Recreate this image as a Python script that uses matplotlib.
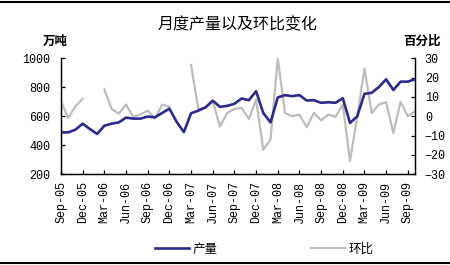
import matplotlib
matplotlib.use('Agg')
import matplotlib.pyplot as plt
import matplotlib.lines as mlines
import numpy as np

plt.rcParams['font.family'] = ['Noto Sans CJK SC', 'DejaVu Sans']

# month index 0 = Sep-05 ... 49 = Oct-09
tick_labels = ['Sep-05', 'Dec-05', 'Mar-06', 'Jun-06', 'Sep-06', 'Dec-06',
               'Mar-07', 'Jun-07', 'Sep-07', 'Dec-07', 'Mar-08', 'Jun-08',
               'Sep-08', 'Dec-08', 'Mar-09', 'Jun-09', 'Sep-09']

# 产量 (万吨)
output = [489, 489, 508, 549, 512, 478, 535, 549, 558, 591,
          584, 584, 598, 593, 623, 653, 562, 491, 621, 639,
          662, 708, 665, 672, 686, 723, 711, 773, 622, 558,
          730, 746, 739, 746, 709, 711, 693, 697, 693, 725,
          554, 600, 755, 762, 802, 855, 781, 839, 839, 855]

# 环比 (%), gaps where no figure was published
mom = [7.8, -0.9, 5.2, 9.0, np.nan, np.nan, 13.9, 3.8, 1.4, 6.1,
       -0.3, 0.9, 3.0, -1.2, 6.1, 4.9, np.nan, np.nan, 26.5, 3.8,
       4.3, 7.8, -5.3, 1.7, 3.8, 4.3, -1.4, 8.7, -17.4, -12.0,
       30.0, 1.7, 0.0, 0.9, -5.7, 1.7, -2.1, 0.9, -0.3, 6.1,
       -23.1, 0.0, 24.7, 1.7, 6.1, 7.3, -8.7, 7.5, 0.0, 2.6]

months = np.arange(len(output))
blue = '#2B2B8E'
grey = '#BDBDBD'
tick_font = dict(family='Liberation Mono', size=8.5)

fig = plt.figure(figsize=(4.5, 2.65), dpi=100)
ax1 = fig.add_axes([0.1356, 0.3423, 0.7867, 0.4377])
ax2 = ax1.twinx()

ax2.plot(months, mom, color=grey, lw=1.6)
ax1.plot(months, output, color=blue, lw=1.9)
ax1.set_zorder(ax2.get_zorder() + 1)
ax1.patch.set_visible(False)

ax1.set_xlim(0, 49)
ax1.set_ylim(200, 1000)
ax2.set_ylim(-30, 30)
ax1.set_yticks(range(200, 1001, 200))
ax2.set_yticks(range(-30, 31, 10))
ax1.set_xticks(range(0, 49, 3))
ax1.set_xticklabels(tick_labels, rotation=90, fontdict=tick_font)
ax1.set_yticklabels([str(v) for v in range(200, 1001, 200)], fontdict=tick_font)
ax2.set_yticklabels([str(v).replace('-', '\u2212') for v in range(-30, 31, 10)],
                    fontdict=tick_font)

for ax in (ax1, ax2):
    ax.spines['top'].set_visible(False)
    for s in ax.spines.values():
        s.set_linewidth(0.9)
ax1.tick_params(axis='y', direction='in', length=3, width=0.9, pad=8)
ax1.tick_params(axis='x', direction='in', length=3, width=0.9, pad=5)
ax2.tick_params(axis='y', direction='in', length=3, width=0.9, pad=7)

fig.text(0.527, 0.905, '月度产量以及环比变化', ha='center', va='center', fontsize=11.5)
fig.text(0.122, 0.845, '万吨', ha='center', va='center', fontsize=9, fontweight='bold')
fig.text(0.937, 0.845, '百分比', ha='center', va='center', fontsize=9, fontweight='bold')

h1 = mlines.Line2D([], [], color=blue, lw=1.9, label='产量')
h2 = mlines.Line2D([], [], color=grey, lw=1.6, label='环比')
fig.legend(handles=[h1, h2], loc='center', bbox_to_anchor=(0.587, 0.06), ncol=2,
           frameon=False, fontsize=9, handlelength=2.7, handletextpad=0.3,
           columnspacing=7.5)

# horizontal rules framing the figure
fig.add_artist(mlines.Line2D([0, 1], [0.994, 0.994], color='black', lw=1.5))
fig.add_artist(mlines.Line2D([0, 1], [0.008, 0.008], color='black', lw=1.5))

fig.savefig('out.png', dpi=100)
